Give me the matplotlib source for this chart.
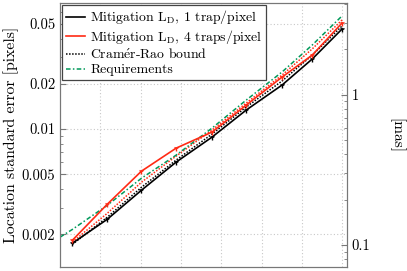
import matplotlib
matplotlib.use("Agg")
import matplotlib.pyplot as plt
from matplotlib.ticker import LogLocator, FuncFormatter, NullFormatter

plt.rcParams['font.family'] = ['serif']
plt.rcParams['font.serif'] = ['cmr10', 'DejaVu Serif']
plt.rcParams['mathtext.fontset'] = 'cm'
plt.rcParams['axes.formatter.use_mathtext'] = True
plt.rcParams['axes.unicode_minus'] = False

# data
x_pts = [0.305, 1.17, 2.02, 2.88, 3.77, 4.62, 5.51, 6.26, 7.0]
mit_1trap = [0.00174, 0.00251, 0.00392, 0.00603, 0.00884, 0.01339, 0.01965, 0.0293, 0.0464]
mit_4trap = [0.00182, 0.00316, 0.00525, 0.00747, 0.00955, 0.01445, 0.0222, 0.0311, 0.0509]
crb_1trap = [0.00171, 0.00259, 0.00410, 0.00622, 0.00926, 0.01402, 0.0209, 0.0311, 0.0486]
crb_4trap = [0.00177, 0.00275, 0.00443, 0.00661, 0.00985, 0.0149, 0.0229, 0.0342, 0.0533]
x_req = [0.0, 0.305, 1.17, 2.02, 2.88, 3.77, 4.62, 5.51, 6.26, 7.0]
req = [0.00191, 0.00215, 0.00311, 0.00471, 0.00671, 0.01015, 0.0156, 0.0240, 0.0363, 0.0567]
mas_per_pixel = 58.9

black = 'black'
red = '#ff2a14'
green = '#00995a'

fig = plt.figure(figsize=(4.07, 2.71), dpi=100)
ax = fig.add_axes([60/407, 4/271, 287/407, 264/271])

ax.plot(x_pts, mit_1trap, color=black, lw=1.2,
        label='Mitigation L$_\\mathrm{D}$, 1 trap/pixel', zorder=4)
ax.plot(x_pts, mit_1trap, color=black, lw=0, marker='1', ms=4, mew=1, zorder=4)
ax.plot(x_pts, mit_4trap, color=red, lw=1.2,
        label='Mitigation L$_\\mathrm{D}$, 4 traps/pixel', zorder=4)
ax.plot(x_pts, mit_4trap, color=red, lw=0, marker='1', ms=4, mew=1, zorder=4)
ax.plot(x_pts, crb_1trap, color=black, lw=1.1, ls=(0, (1, 1)),
        label='Cram$\\mathrm{\\acute{e}}$r-Rao bound', zorder=3)
ax.plot(x_pts, crb_4trap, color=red, lw=1.1, ls=(0, (1, 1)), zorder=3)
ax.plot(x_req, req, color=green, lw=1.1, ls=(0, (3, 1.5, 1, 1.5)),
        label='Requirements', zorder=3)

ax.set_yscale('log')
ymin, ymax = 0.00121, 0.069
ax.set_ylim(ymin, ymax)
ax.set_xlim(0, 7.12)
ax.yaxis.set_major_locator(LogLocator(base=10, subs=(1, 2, 5)))
ax.yaxis.set_minor_locator(LogLocator(base=10, subs=(3, 4, 6, 7, 8, 9)))
ax.yaxis.set_major_formatter(FuncFormatter(lambda v, p: '%g' % v))
ax.yaxis.set_minor_formatter(NullFormatter())
ax.set_xticks([1, 2, 3, 4, 5, 6, 7])
ax.set_xticklabels([])
ax.tick_params(axis='x', length=0)
ax.tick_params(axis='y', which='both', direction='in', colors='#777777',
               labelcolor='black', labelsize=10.5)
ax.tick_params(axis='y', which='major', length=4)
ax.tick_params(axis='y', which='minor', length=2.5)
ax.grid(True, which='major', color='#c8c8c8', ls=(0, (1, 2)), lw=0.8)
for s in ax.spines.values():
    s.set_color('#777777')
ax.set_ylabel('Location standard error [pixels]', fontsize=11.3, labelpad=2)

ax2 = ax.twinx()
ax2.set_yscale('log')
ax2.set_ylim(ymin * mas_per_pixel, ymax * mas_per_pixel)
ax2.yaxis.set_major_locator(LogLocator(base=10, subs=(1,)))
ax2.yaxis.set_minor_locator(LogLocator(base=10, subs=(2, 3, 4, 5, 6, 7, 8, 9)))
ax2.yaxis.set_major_formatter(FuncFormatter(lambda v, p: '%g' % v))
ax2.yaxis.set_minor_formatter(NullFormatter())
ax2.tick_params(axis='y', which='both', direction='in', colors='#777777',
                labelcolor='black', labelsize=10.5)
ax2.tick_params(axis='y', which='major', length=4)
ax2.tick_params(axis='y', which='minor', length=2.5)
for s in ax2.spines.values():
    s.set_color('#777777')
fig.text(396/407, 0.5, '[mas]', fontsize=11, rotation=270,
         ha='center', va='center')

leg = ax.legend(loc='upper left', fontsize=9.9, frameon=True, fancybox=False,
                framealpha=1, edgecolor='#444444', handlelength=1.4,
                handletextpad=0.4, borderpad=0.25, labelspacing=0.12,
                borderaxespad=0.15)
leg.get_frame().set_linewidth(0.9)
leg.set_zorder(10)

fig.savefig('out.png', dpi=100)
